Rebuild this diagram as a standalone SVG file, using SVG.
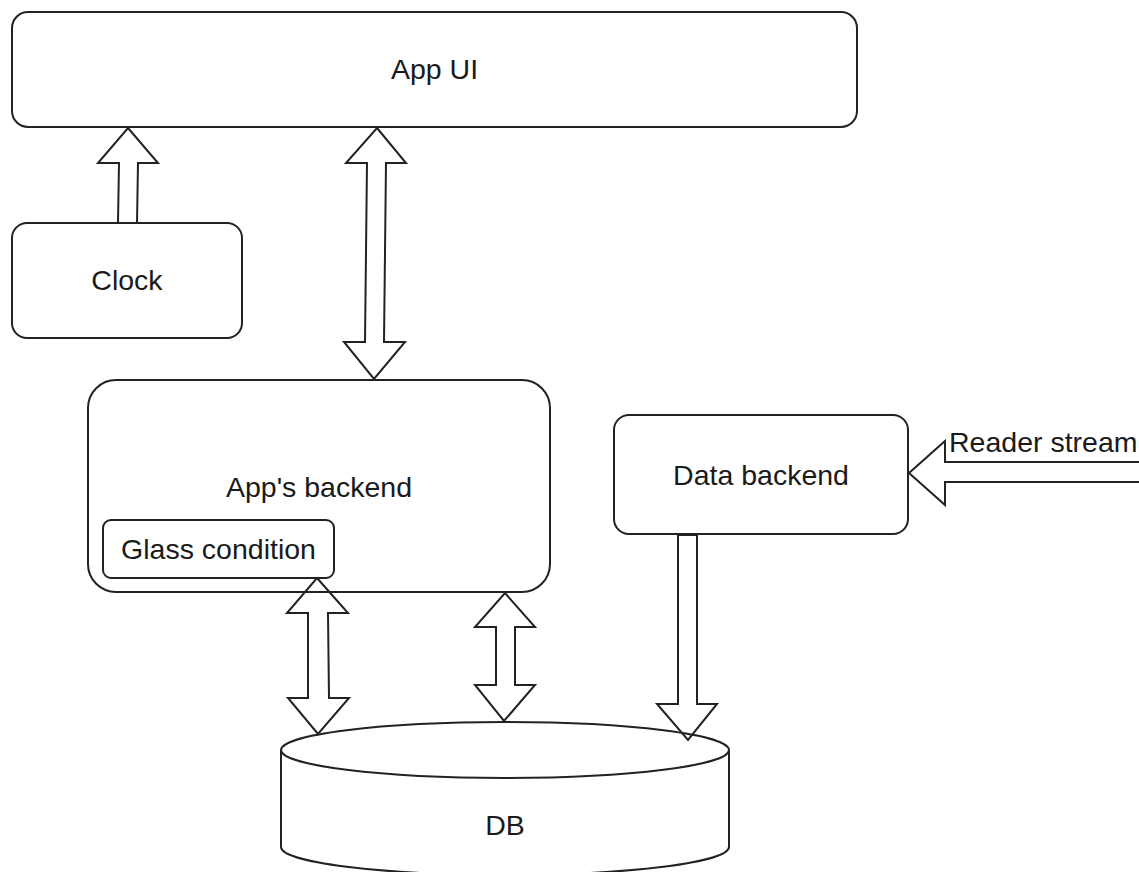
<svg xmlns="http://www.w3.org/2000/svg" width="1139" height="872" viewBox="0 0 1139 872">
  <style>
    .box { fill: #ffffff; stroke: #222222; stroke-width: 2; }
    .arrow { fill: none; stroke: #222222; stroke-width: 2; stroke-linejoin: miter; }
    .lbl { font-family: "Liberation Sans", Arial, sans-serif; font-size: 28.5px; fill: #1a1a1a; text-anchor: middle; }
    .lbl-left { font-family: "Liberation Sans", Arial, sans-serif; font-size: 28.5px; fill: #1a1a1a; text-anchor: start; }
  </style>
  <rect x="0" y="0" width="1139" height="872" fill="#ffffff"/>

  <g id="app-ui">
    <rect class="box" x="12" y="12" width="845" height="115" rx="16" ry="16"/>
    <text class="lbl" x="434.5" y="79">App UI</text>
  </g>

  <g id="clock">
    <rect class="box" x="12" y="223" width="230" height="115" rx="15" ry="15"/>
    <text class="lbl" x="127" y="290">Clock</text>
  </g>

  <g id="apps-backend">
    <rect class="box" x="88" y="380" width="462" height="212" rx="28" ry="28"/>
    <text class="lbl" x="319" y="497">App's backend</text>
  </g>

  <g id="glass-condition">
    <rect class="box" x="103" y="520" width="231" height="58" rx="8" ry="8"/>
    <text class="lbl" x="218.5" y="559">Glass condition</text>
  </g>

  <g id="data-backend">
    <rect class="box" x="614" y="415" width="294" height="119" rx="15" ry="15"/>
    <text class="lbl" x="761" y="485">Data backend</text>
  </g>

  <g id="db">
    <path class="box" d="M281,750 A224,28 0 0 1 729,750 L729,847 A224,28 0 0 1 281,847 Z"/>
    <path class="box" d="M281,750 A224,28 0 0 0 729,750" fill="none"/>
    <text class="lbl" x="505" y="835">DB</text>
  </g>

  <g id="connectors">
    <!-- Clock -> App UI -->
    <polygon class="arrow" points="128,128 158,163 138,163 137,223 118,223 119,163 98,163"/>
    <!-- App UI <-> App's backend -->
    <polygon class="arrow" points="377,128 406,163 386,163 384,342 405,342 374,379 344,342 365,342 367,163 346,163"/>
    <!-- Glass condition <-> DB -->
    <polygon class="arrow" points="317,578 348,613 328,613 329,698 349,698 318,734 288,698 308,698 308,613 287,613"/>
    <!-- App's backend <-> DB -->
    <polygon class="arrow" points="505,593 535,627 515,627 515,685 535,685 504,721 475,685 496,685 496,627 475,627"/>
    <!-- Data backend -> DB -->
    <polygon class="arrow" points="678,535 697,535 697,704 717,704 688,740 657,704 678,704"/>
    <!-- Reader stream -> Data backend -->
    <polygon class="arrow" points="909,473 945,441 945,462 1145,462 1145,482 945,482 945,505"/>
    <text class="lbl-left" x="949" y="452">Reader stream</text>
  </g>
</svg>
